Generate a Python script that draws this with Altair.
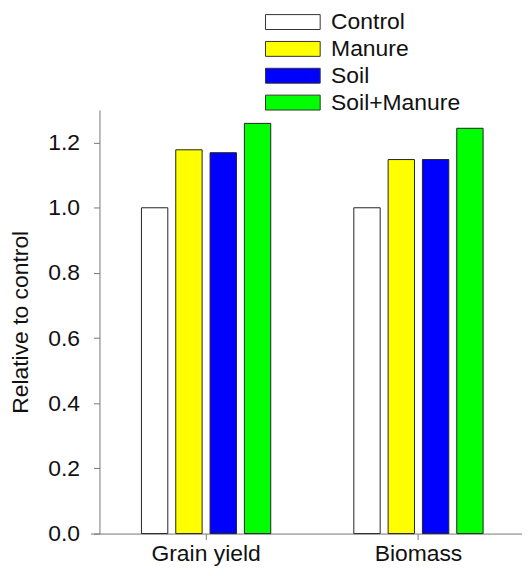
import altair as alt
import pandas as pd

groups = ["Grain yield", "Biomass"]
treatments = ["Control", "Manure", "Soil", "Soil+Manure"]
colors = ["#FFFFFF", "#FFFF00", "#0000FF", "#00FF00"]
grain_yield = [1.0, 1.178, 1.169, 1.259]
biomass = [1.0, 1.148, 1.148, 1.244]
y_ticks = [0.0, 0.2, 0.4, 0.6, 0.8, 1.0, 1.2]

rows = []
for g, vals in zip(groups, [grain_yield, biomass]):
    for t, v in zip(treatments, vals):
        rows.append({"group": g, "treatment": t, "value": v})
df = pd.DataFrame(rows)

W, H = 434, 426
FS = 23

bars = alt.Chart(df).mark_bar(stroke="#222222", strokeWidth=1).encode(
    x=alt.X("group:N", sort=groups, title=None,
            scale=alt.Scale(paddingInner=0.068, paddingOuter=0.0499, align=0.784),
            axis=alt.Axis(labelAngle=0, labelFontSize=FS, labelColor="#111111",
                          domainColor="#777777", tickColor="#777777",
                          tickSize=6, labelPadding=3, grid=False)),
    xOffset=alt.XOffset("treatment:N", sort=treatments,
                        scale=alt.Scale(paddingInner=0.232, paddingOuter=1)),
    y=alt.Y("value:Q", title="Relative to control",
            scale=alt.Scale(domain=[0, 1.3], nice=False),
            axis=alt.Axis(values=y_ticks, format=".1f", labelFontSize=FS,
                          labelColor="#111111", titleFontSize=FS,
                          titleFontWeight="normal", titleColor="#111111",
                          domainColor="#777777", tickColor="#777777",
                          tickSize=6, labelPadding=14, titlePadding=15,
                          offset=-9, grid=False)),
    color=alt.Color("treatment:N", sort=treatments,
                    scale=alt.Scale(domain=treatments, range=colors),
                    legend=alt.Legend(
                        title=None, orient="none", legendX=192, legendY=-100,
                        symbolType="M-3.4375,-0.9375L3.4375,-0.9375L3.4375,0.9375L-3.4375,0.9375Z",
                        symbolSize=256, symbolStrokeColor="#333333",
                        symbolStrokeWidth=1, labelFontSize=FS,
                        labelColor="#111111", labelOffset=27,
                        rowPadding=3, padding=0, symbolOpacity=1)),
)

chart = bars.properties(
    width=W, height=H,
    autosize=alt.AutoSizeParams(type="none"),
    padding={"left": 83, "top": 101, "right": 0, "bottom": 33},
).configure(font="Liberation Sans").configure_view(stroke=None)

chart.save("out.html", embed_options={"renderer": "svg", "actions": False})
